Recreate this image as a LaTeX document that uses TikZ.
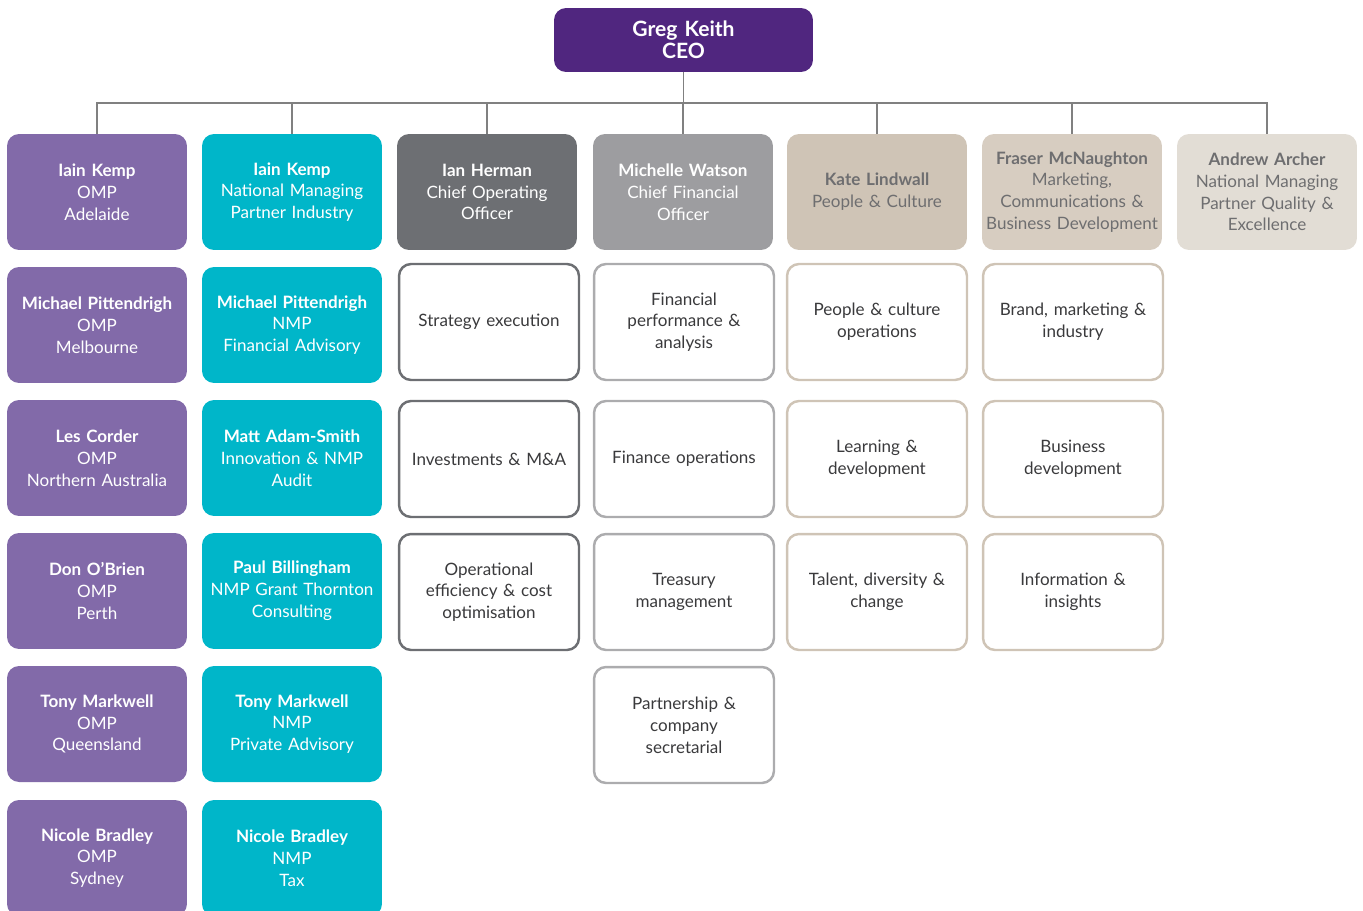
\documentclass[tikz,border=0pt]{standalone}
\usepackage{fontspec}
\setmainfont{Lato}
\hyphenpenalty=10000

\definecolor{ceopurple}{HTML}{50267F}
\definecolor{omppurple}{HTML}{826AA9}
\definecolor{nmpcyan}{HTML}{00B6C9}
\definecolor{coogray}{HTML}{6D6F73}
\definecolor{cfogray}{HTML}{9D9DA0}
\definecolor{pcbeige}{HTML}{CFC4B6}
\definecolor{mktbeige}{HTML}{D7CDC1}
\definecolor{qebeige}{HTML}{E2DDD5}
\definecolor{beigetext}{HTML}{6E6E70}
\definecolor{tasktext}{HTML}{3A3A3C}
\definecolor{linkgray}{HTML}{808080}

\tikzset{
  box/.style={rounded corners=0.24cm, minimum width=3.6cm, minimum height=2.32cm,
    text width=3.55cm, align=center, inner sep=0pt,
    font=\fontsize{9.7}{12.4}\selectfont},
  ompbox/.style={box, fill=omppurple, text=white},
  nmpbox/.style={box, fill=nmpcyan, text=white},
  coobox/.style={box, fill=coogray, text=white},
  cfobox/.style={box, fill=cfogray, text=white},
  pcbox/.style={box, fill=pcbeige, text=beigetext},
  mktbox/.style={box, fill=mktbeige, text=beigetext},
  qebox/.style={box, fill=qebeige, text=beigetext},
  task/.style={box, fill=white, text=tasktext, line width=1.4pt},
  cootask/.style={task, draw=coogray},
  cfotask/.style={task, draw=cfogray!85},
  pctask/.style={task, draw=pcbeige}
}

\begin{document}
\begin{tikzpicture}[x=0.02cm, y=-0.02cm]
  \useasboundingbox (0,0) rectangle (1363,910);

  % CEO
  \node[box, fill=ceopurple, text=white, minimum width=5.18cm, minimum height=1.28cm,
    text width=5cm, font=\fontsize{12}{12.5}\selectfont] (ceo) at (683.5,40)
    {\textbf{Greg Keith}\\\textbf{CEO}};

  % Heads
  \node[ompbox] (h1) at (97,192) {\textbf{Iain Kemp}\\OMP\\Adelaide};
  \node[nmpbox] (h2) at (292,192) {\textbf{Iain Kemp}\\National Managing\\Partner Industry};
  \node[coobox] (h3) at (487,192) {\textbf{Ian Herman}\\Chief Operating\\Officer};
  \node[cfobox] (h4) at (683,192) {\textbf{Michelle Watson}\\Chief Financial\\Officer};
  \node[pcbox] (h5) at (877,192) {\textbf{Kate Lindwall}\\People \& Culture};
  \node[mktbox] (h6) at (1072,192) {\textbf{Fraser McNaughton}\\Marketing,\\Communications \&\\Business Development};
  \node[qebox] (h7) at (1267,192) {\textbf{Andrew Archer}\\National Managing\\Partner Quality \&\\Excellence};

  % Bus
  \coordinate (bus) at (683,103);
  \draw[linkgray, line width=0.6pt] (ceo.south) -- (ceo.south |- bus);
  \foreach \h in {h1,h2,h3,h4,h5,h6,h7}
    \draw[linkgray, line width=0.6pt] (ceo.south |- bus) -| (\h.north);

  % OMP column
  \node[ompbox] (omp2) at (97,325) {\textbf{Michael Pittendrigh}\\OMP\\Melbourne};
  \node[ompbox] (omp3) at (97,458) {\textbf{Les Corder}\\OMP\\Northern Australia};
  \node[ompbox] (omp4) at (97,591) {\textbf{Don O’Brien}\\OMP\\Perth};
  \node[ompbox] (omp5) at (97,724) {\textbf{Tony Markwell}\\OMP\\Queensland};
  \node[ompbox] (omp6) at (97,858) {\textbf{Nicole Bradley}\\OMP\\Sydney};

  % NMP column
  \node[nmpbox] (nmp2) at (292,325) {\textbf{Michael Pittendrigh}\\NMP\\Financial Advisory};
  \node[nmpbox] (nmp3) at (292,458) {\textbf{Matt Adam-Smith}\\Innovation \& NMP\\Audit};
  \node[nmpbox] (nmp4) at (292,591) {\textbf{Paul Billingham}\\NMP Grant Thornton\\Consulting};
  \node[nmpbox] (nmp5) at (292,724) {\textbf{Tony Markwell}\\NMP\\Private Advisory};
  \node[nmpbox] (nmp6) at (292,858) {\textbf{Nicole Bradley}\\NMP\\Tax};

  % COO tasks
  \node[cootask] (coo2) at (489,322) {Strategy execution};
  \node[cootask] (coo3) at (489,459) {Investments \& M\&A};
  \node[cootask] (coo4) at (489,592) {Operational\\efficiency \& cost\\optimisation};

  % CFO tasks
  \node[cfotask] (cfo2) at (684,322) {Financial\\performance \&\\analysis};
  \node[cfotask] (cfo3) at (684,459) {Finance operations};
  \node[cfotask] (cfo4) at (684,592) {Treasury\\management};
  \node[cfotask] (cfo5) at (684,725) {Partnership \&\\company\\secretarial};

  % People & culture tasks
  \node[pctask] (pc2) at (877,322) {People \& culture\\operations};
  \node[pctask] (pc3) at (877,459) {Learning \&\\development};
  \node[pctask] (pc4) at (877,592) {Talent, diversity \&\\change};

  % Marketing tasks
  \node[pctask] (mkt2) at (1073,322) {Brand, marketing \&\\industry};
  \node[pctask] (mkt3) at (1073,459) {Business\\development};
  \node[pctask] (mkt4) at (1073,592) {Information \&\\insights};
\end{tikzpicture}
\end{document}
